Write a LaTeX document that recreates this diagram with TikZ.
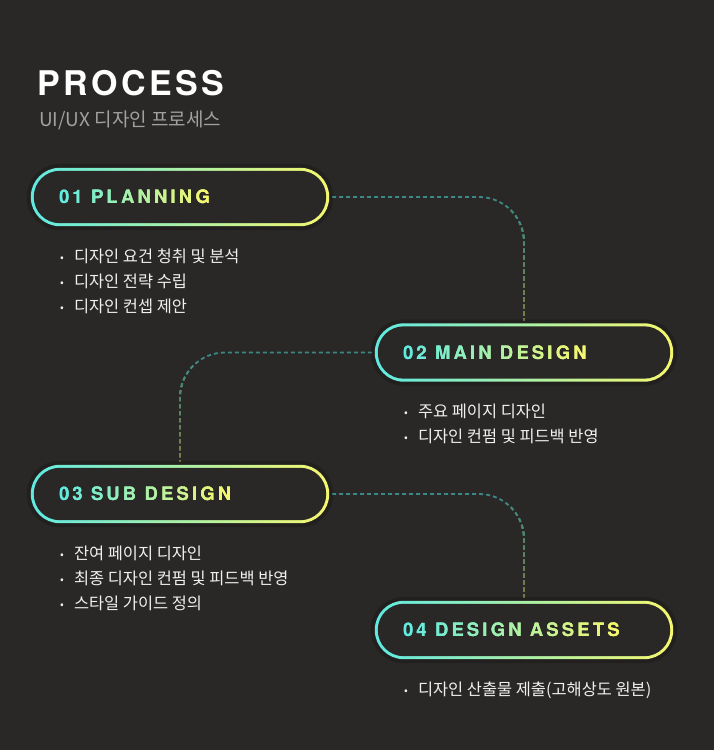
\documentclass[tikz,border=0pt]{standalone}
\usepackage{fontspec}
\setmainfont{Noto Sans CJK KR}
\newfontfamily\headfont[LetterSpace=10]{TeX Gyre Heros}
\newfontfamily\pillfont[LetterSpace=17]{TeX Gyre Heros}
\usetikzlibrary{calc,positioning}

\definecolor{bg}{HTML}{2A2826}
\definecolor{cy}{HTML}{5EEAE2}
\definecolor{ye}{HTML}{F6F76E}
\definecolor{teal0}{HTML}{3D8884}
\definecolor{olive0}{HTML}{7A7D45}
\definecolor{subgray}{HTML}{A3A19F}
\definecolor{itemc}{HTML}{F0F0F0}

\tikzset{
  pill/.style={rectangle, minimum width=298pt, minimum height=58pt, inner sep=0pt},
  pilltext/.style={font=\pillfont\bfseries\fontsize{18.5}{18.5}\selectfont, inner sep=0pt},
  item/.style={font=\fontsize{16.4}{16.4}\selectfont, text=itemc, inner sep=0pt, anchor=base west},
  link/.style={line width=1.8pt, dash pattern=on 4pt off 3pt, rounded corners=45pt,
    shorten <=3pt, shorten >=3pt}
}

\newcommand\itm{\makebox[14pt][l]{\fontsize{11}{11}\selectfont\raisebox{1.2pt}{•}}}

% gradient label, drawn strip by strip
\newcommand\pilllabel[3]{%
  \node[pilltext, anchor=west, text opacity=0] (#2) at ([xshift=28pt]#1.west) {#3};
  \foreach \k in {0,...,59}{%
    \pgfmathtruncatemacro\pct{100*\k/59}%
    \colorlet{stripc}{ye!\pct!cy}%
    \begin{scope}
      \clip ($(#2.south west)!{(\k-0.5)/60}!(#2.south east)+(0pt,-4pt)$) rectangle
            ($(#2.north west)!{(\k+1.5)/60}!(#2.north east)+(0pt,4pt)$);
      \node[pilltext, text=stripc] at (#2.center) {#3};
    \end{scope}
  }%
}

% dashed connector, teal fading to olive downwards
\newcommand\linkpath[2]{%
  \draw[link, draw=teal0] (#1) -| (#2);
  \foreach \k in {1,...,9}{%
    \pgfmathtruncatemacro\pct{\k*11}%
    \colorlet{linkc}{olive0!\pct!teal0}%
    \begin{scope}
      \clip let \p1=(#1), \p2=(#2) in
        (0pt,{\y1+(\y2-\y1)*\k/10}) rectangle (714pt,{\y2-20pt});
      \draw[link, draw=linkc] (#1) -| (#2);
    \end{scope}
  }%
}

\begin{document}
\begin{tikzpicture}[x=1pt,y=-1pt]
  \useasboundingbox (0,0) rectangle (714,750);
  \fill[bg] (0,0) rectangle (714,750);

  \node[anchor=base west, text=white, inner sep=0pt,
        font=\headfont\bfseries\fontsize{34}{34}\selectfont] (title) at (37.5,95.5) {PROCESS};
  \node[anchor=base west, text=subgray, inner sep=0pt,
        font=\fontsize{19}{19}\selectfont] (subtitle) at (39,126) {UI/UX 디자인 프로세스};

  \node[pill] (p1) at (180,197) {};
  \node[pill] (p2) at (524,352.5) {};
  \node[pill] (p3) at (180,494) {};
  \node[pill] (p4) at (524,630) {};

  \linkpath{p1.east}{p2.north}
  \linkpath{p2.west}{p3.north}
  \linkpath{p3.east}{p4.north}

  \foreach \p in {p1,p2,p3,p4}{
    \fill[black, opacity=.18, rounded corners=33pt]
      ([shift={(-4pt,-4pt)}]\p.south west) rectangle ([shift={(4pt,4pt)}]\p.north east);
    \shade[left color=cy, right color=ye, rounded corners=29pt]
      (\p.south west) rectangle (\p.north east);
    \fill[bg, rounded corners=26pt]
      ([shift={(3pt,3pt)}]\p.south west) rectangle ([shift={(-3pt,-3pt)}]\p.north east);
  }

  \pilllabel{p1}{t1}{01 PLANNING}
  \pilllabel{p2}{t2}{02 MAIN DESIGN}
  \pilllabel{p3}{t3}{03 SUB DESIGN}
  \pilllabel{p4}{t4}{04 DESIGN ASSETS}

  \foreach \t [count=\n from 0] in {디자인 요건 청취 및 분석, 디자인 전략 수립, 디자인 컨셉 제안}
    \node[item] (plan-\n) at ([shift={(29pt,{-(36+25*\n)*1pt})}]p1.south west) {\itm\t};
  \foreach \t [count=\n from 0] in {주요 페이지 디자인, 디자인 컨펌 및 피드백 반영}
    \node[item] (main-\n) at ([shift={(29pt,{-(36+25*\n)*1pt})}]p2.south west) {\itm\t};
  \foreach \t [count=\n from 0] in {잔여 페이지 디자인, 최종 디자인 컨펌 및 피드백 반영, 스타일 가이드 정의}
    \node[item] (sub-\n) at ([shift={(29pt,{-(36+25*\n)*1pt})}]p3.south west) {\itm\t};
  \foreach \t [count=\n from 0] in {디자인 산출물 제출(고해상도 원본)}
    \node[item] (assets-\n) at ([shift={(29pt,{-(36+25*\n)*1pt})}]p4.south west) {\itm\t};
\end{tikzpicture}
\end{document}
